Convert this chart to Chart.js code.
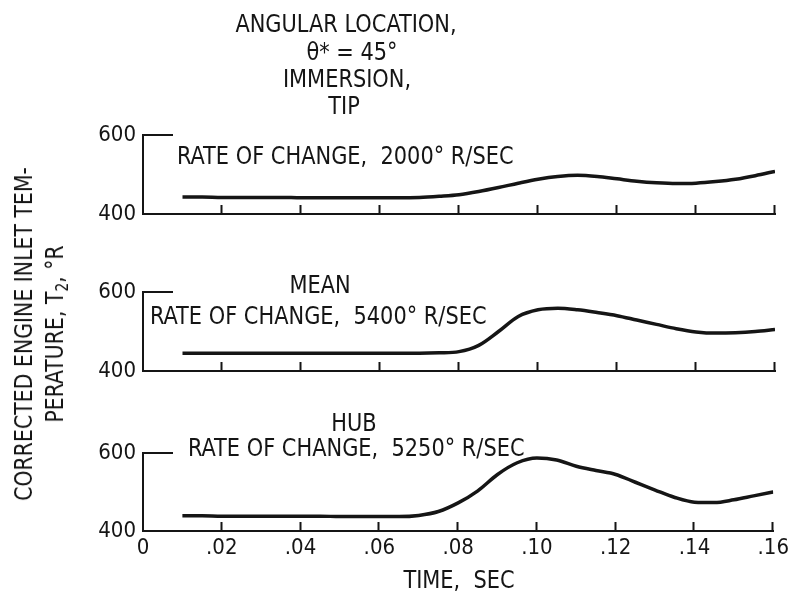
<!DOCTYPE html>
<html>
<head>
<meta charset="utf-8">
<script src="https://cdn.jsdelivr.net/npm/chart.js@4.4.0/dist/chart.umd.min.js"></script>
<style>
  body { margin: 0; background: #fff; }
  #wrap { position: relative; width: 793px; height: 593px; overflow: hidden;
          font-family: 'DejaVu Sans Condensed', 'Liberation Sans Narrow', sans-serif; color: #151515; }
  canvas { position: absolute; left: 0; top: 0; }
  .lbl { position: absolute; font-size: 25px; line-height: 25px; white-space: nowrap;
         transform: translate(-50%, -50%) scaleX(0.93); }
  .lbl.left { transform-origin: 0 50%; transform: translateY(-50%) scaleX(0.93); }
  #ytitle { position: absolute; left: 39px; top: 334px; width: 420px; font-size: 25px; line-height: 31px;
            text-align: center; white-space: nowrap; transform: translate(-50%, -50%) rotate(-90deg) scaleX(0.91); }
  #ytitle sub { font-size: 17px; line-height: 0; vertical-align: -5px; }
</style>
</head>
<body>
<div id="wrap">
  <canvas id="tip" width="793" height="593"></canvas>
  <canvas id="mean" width="793" height="593"></canvas>
  <canvas id="hub" width="793" height="593"></canvas>

  <div class="lbl" style="left:346px;top:23px">ANGULAR LOCATION,</div>
  <div class="lbl" style="left:352px;top:51px">θ* = 45°</div>
  <div class="lbl" style="left:347px;top:78px">IMMERSION,</div>
  <div class="lbl" style="left:344px;top:105px">TIP</div>
  <div class="lbl left" style="left:177px;top:155px">RATE OF CHANGE,&nbsp; 2000° R/SEC</div>

  <div class="lbl" style="left:320px;top:284px">MEAN</div>
  <div class="lbl left" style="left:150px;top:315px">RATE OF CHANGE,&nbsp; 5400° R/SEC</div>

  <div class="lbl" style="left:354px;top:422px">HUB</div>
  <div class="lbl left" style="left:188px;top:447px">RATE OF CHANGE,&nbsp; 5250° R/SEC</div>

  <div class="lbl" style="left:459px;top:579px">TIME,&nbsp; SEC</div>
  <div id="ytitle">CORRECTED ENGINE INLET TEM-<br>PERATURE, T<sub>2</sub>, °R</div>
</div>

<script>
// time, sec
const timeSec = [0.010, 0.015, 0.020, 0.025, 0.030, 0.035, 0.040, 0.045, 0.050, 0.055,
                 0.060, 0.065, 0.070, 0.075, 0.080, 0.085, 0.090, 0.095, 0.100, 0.105,
                 0.110, 0.115, 0.120, 0.125, 0.130, 0.135, 0.140, 0.145, 0.150, 0.155, 0.160];

// corrected inlet temperature, deg R
const tipTemp  = [443, 443, 442, 442, 442, 442, 441, 441, 441, 441,
                  441, 441, 442, 445, 449, 457, 467, 478, 488, 495,
                  498, 495, 489, 483, 479, 477, 478, 482, 488, 497, 508];
const meanTemp = [445, 445, 445, 445, 445, 445, 445, 445, 445, 445,
                  445, 445, 445, 446, 449, 465, 500, 538, 555, 559,
                  555, 548, 540, 529, 518, 507, 499, 496, 497, 500, 505];
const hubTemp  = [439, 439, 438, 438, 438, 438, 438, 438, 437, 437,
                  437, 437, 440, 450, 472, 503, 545, 575, 587, 582,
                  566, 555, 545, 525, 505, 486, 474, 473, 480, 490, 500];

const xTickValues = [0, 0.02, 0.04, 0.06, 0.08, 0.10, 0.12, 0.14, 0.16];
const xTickLabels = ['0', '.02', '.04', '.06', '.08', '.10', '.12', '.14', '.16'];
const yTickValues = [400, 600];
const yTickLabels = ['400', '600'];

const FONT = "'DejaVu Sans Condensed', 'Liberation Sans Narrow', sans-serif";
const INK = '#151515';

// small upward ticks on each time axis, and the short stub at 600
const axisMarks = {
  id: 'axisMarks',
  afterDraw(chart) {
    const ctx = chart.ctx;
    const x = chart.scales.x, y = chart.scales.y;
    const base = y.getPixelForValue(400);
    const top = y.getPixelForValue(600);
    ctx.save();
    ctx.strokeStyle = INK;
    ctx.lineWidth = 2;
    ctx.beginPath();
    xTickValues.forEach(v => {
      if (v > 0) {
        const px = Math.round(x.getPixelForValue(v)) - 0.5;
        ctx.moveTo(px, base);
        ctx.lineTo(px, base - 9);
      }
    });
    ctx.moveTo(chart.chartArea.left - 1, top);
    ctx.lineTo(chart.chartArea.left + 30, top);
    ctx.stroke();
    ctx.restore();
  }
};

function makePanel(id, temps, areaTop, areaBottom, showTime) {
  const xAxisH = showTime ? 62 : 0;
  return new Chart(document.getElementById(id), {
    type: 'line',
    data: {
      datasets: [{
        data: timeSec.map((t, i) => ({ x: t, y: temps[i] })),
        borderColor: INK,
        borderWidth: 3.5,
        pointRadius: 0,
        cubicInterpolationMode: 'monotone',
        fill: false
      }]
    },
    options: {
      responsive: false,
      animation: false,
      events: [],
      layout: { padding: { left: 0, right: 18, top: areaTop, bottom: 593 - areaBottom - xAxisH } },
      plugins: { legend: { display: false }, tooltip: { enabled: false } },
      scales: {
        x: {
          type: 'linear',
          min: 0,
          max: 0.16,
          grid: { display: false, drawTicks: false },
          border: { color: INK, width: 2 },
          ticks: {
            display: showTime,
            padding: 4,
            color: INK,
            font: { family: FONT, size: 22 },
            maxRotation: 0,
            callback: (v, i) => xTickLabels[i]
          },
          afterBuildTicks: s => { s.ticks = xTickValues.map(v => ({ value: v })); },
          afterFit: s => { s.height = xAxisH; }
        },
        y: {
          min: 400,
          max: 600,
          grid: { display: false, drawTicks: false },
          border: { color: INK, width: 2 },
          ticks: {
            padding: 7,
            color: INK,
            font: { family: FONT, size: 22 },
            callback: (v, i) => yTickLabels[i]
          },
          afterBuildTicks: s => { s.ticks = yTickValues.map(v => ({ value: v })); },
          afterFit: s => { s.width = 143; }
        }
      }
    },
    plugins: [axisMarks]
  });
}

makePanel('tip', tipTemp, 135, 214, false);
makePanel('mean', meanTemp, 292, 371, false);
makePanel('hub', hubTemp, 453, 531, true);
</script>
</body>
</html>
